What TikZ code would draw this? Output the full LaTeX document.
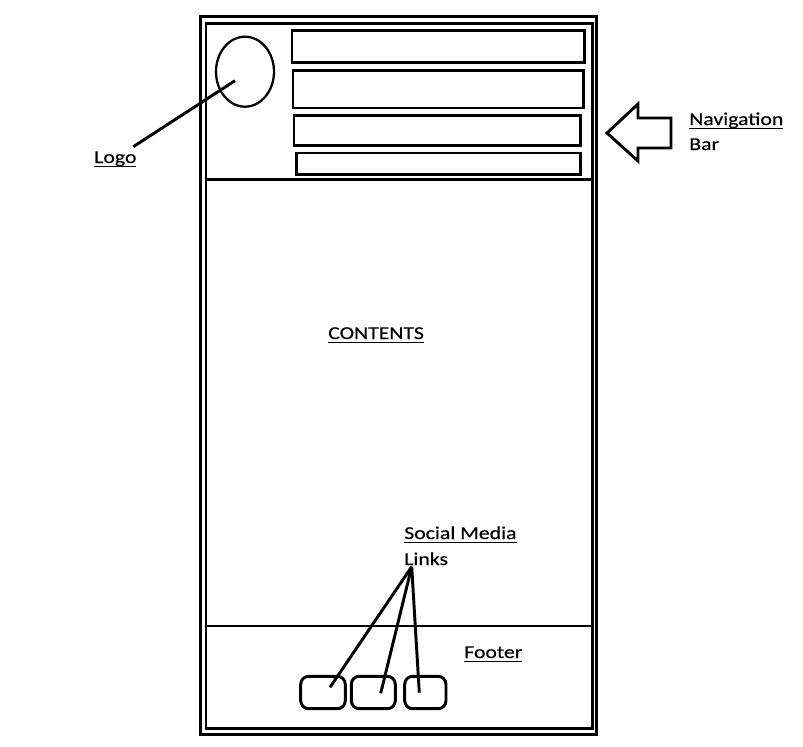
\documentclass[tikz,border=0pt]{standalone}
\usepackage{fontspec}
\setmainfont{Carlito}[FakeStretch=1.2,FakeBold=0.3]
\usetikzlibrary{shapes.geometric,fit}

% underlined word with a fixed rule position below the baseline
\newcommand\ulword[1]{\setbox0\hbox{#1}\rlap{\rule[-3.2pt]{\wd0}{0.8pt}}\box0}

\begin{document}
\begin{tikzpicture}[x=0.75pt,y=-0.75pt,
  thick line/.style={line width=2.2pt},
  box/.style={draw, thick line, inner sep=0pt},
  navbox/.style={box},
  iconbox/.style={box, rounded corners=6pt},
  lbl/.style={inner sep=0pt, anchor=base west, font=\fontsize{13.6pt}{16pt}\selectfont},
  link/.style={draw, thick line}]
  \useasboundingbox (0,0) rectangle (803,746);

  % page frame (double line)
  \node[box, fit={(200.5,16.5) (596.5,734.5)}] (outer) {};
  \node[box, fit={(206,23.5) (592.5,728.7)}] (inner) {};

  % header and footer bands
  \node[box, fit={(206,23.5) (592.5,179.5)}] (header) {};
  \node[box, fit={(206,626) (592.5,728.7)}] (footer) {};

  % logo
  \node[draw, line width=1.7pt, ellipse, inner sep=0pt,
        minimum width=58*0.75pt, minimum height=70*0.75pt] (logoshape) at (245,71.7) {};

  % navigation entries
  \node[navbox, fit={(292,30.3) (584.7,62.3)}] (nav1) {};
  \node[navbox, fit={(293,70.3) (583.2,108)}] (nav2) {};
  \node[navbox, fit={(294,115.3) (580.8,145.7)}] (nav3) {};
  \node[navbox, fit={(296.3,153) (580.6,174.7)}] (nav4) {};

  % arrow pointing at the navigation bar
  \draw[thick line, line join=miter] (607,133) -- (638,104) -- (638,118) -- (671,118)
    -- (671,148) -- (638,148) -- (638,161) -- cycle;

  % social media icons
  \node[iconbox, fit={(300.7,676.3) (345.3,708.7)}] (icon1) {};
  \node[iconbox, fit={(351.3,676.3) (395.3,708.7)}] (icon2) {};
  \node[iconbox, fit={(404.7,676.3) (446,708.7)}] (icon3) {};

  % labels
  \node[lbl] (logo) at (94,163) {\ulword{Logo}};
  \node[lbl] (contents) at (328,339) {\ulword{CONTENTS}};
  \node[lbl] (navlabel) at (689,125) {\ulword{Navigation}};
  \node[lbl] (barlabel) at (689,150) {Bar};
  \node[lbl] (social) at (404,539) {\ulword{Social Media}};
  \node[lbl] (links) at (404,565) {Links};
  \node[lbl] (footerlabel) at (464,658) {\ulword{Footer}};

  % leader lines
  \coordinate (logotip) at (235,80.7);
  \coordinate (logoend) at (133.3,146.7);
  \draw[thick line] (logoend) -- (logotip);

  \coordinate (hub) at (411.7,566.7);
  \coordinate (tip1) at (330,687.3);
  \coordinate (tip2) at (380.7,693.3);
  \coordinate (tip3) at (419.3,692.7);
  \draw[thick line] (hub) -- (tip1);
  \draw[thick line] (hub) -- (tip2);
  \draw[thick line] (hub) -- (tip3);
\end{tikzpicture}
\end{document}
